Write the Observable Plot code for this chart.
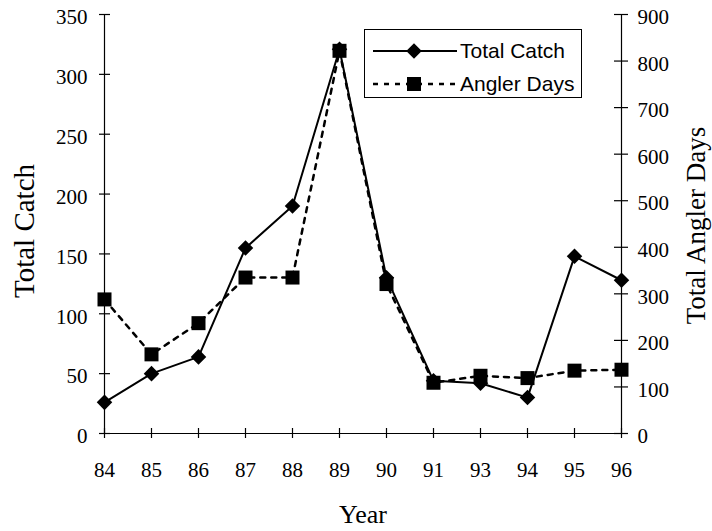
<!DOCTYPE html>
<html>
<head>
<meta charset="utf-8">
<script src="https://cdn.jsdelivr.net/npm/d3@7"></script>
<script src="https://cdn.jsdelivr.net/npm/@observablehq/plot@0.6"></script>
<style>
  html, body { margin: 0; padding: 0; background: #fff; }
  #wrap { position: relative; width: 712px; height: 531px; }
  .legend { position: absolute; left: 364px; top: 29px; width: 216px; height: 67px;
    border: 1px solid #000; background: #fff; font-family: "Liberation Sans", Arial, sans-serif; font-size: 21px; }
  .legend .row { position: absolute; left: 0; height: 30px; width: 216px; }
  .legend svg { position: absolute; left: 6px; top: 0; }
  .legend span { position: absolute; left: 95px; top: 2px; line-height: 26px; white-space: nowrap; }
</style>
</head>
<body>
<div id="wrap"></div>
<script>
// ---- data ----
const years = ["84", "85", "86", "87", "88", "89", "90", "91", "93", "94", "95", "96"];
const totalCatch = [26, 50, 64, 155, 190, 321, 130, 44, 42, 30, 148, 128];
const anglerDays = [288, 170, 237, 335, 335, 822, 321, 109, 124, 119, 135, 137];
const leftTicks = [0, 50, 100, 150, 200, 250, 300, 350];
const rightTicks = [0, 100, 200, 300, 400, 500, 600, 700, 800, 900];
const seriesNames = ["Total Catch", "Angler Days"];

// ---- build ----
const K = 350 / 900; // right-axis units onto left scale
const data = years.map((y, i) => ({year: y, catch: totalCatch[i], days: anglerDays[i] * K}));
const serif = "'Liberation Serif', 'Times New Roman', serif";
const first = years[0], last = years[years.length - 1];
const diamondR = 7, squareR = 7.9;

const plot = Plot.plot({
  width: 712, height: 531,
  marginLeft: 102, marginRight: 89, marginTop: 14, marginBottom: 98,
  style: {fontFamily: serif, fontSize: "21px", color: "#000", background: "#fff", overflow: "visible"},
  x: {type: "point", domain: years, padding: 0, axis: null},
  y: {domain: [0, 350], axis: null},
  marks: [
    // axis lines
    Plot.ruleY([0], {y: d => d, stroke: "#000", strokeWidth: 1.2}),
    Plot.ruleX([first, last], {x: d => d, stroke: "#000", strokeWidth: 1.2}),
    // left ticks + labels
    Plot.ruleY(leftTicks, {y: d => d, x1: () => first, x2: () => first, insetLeft: -5, insetRight: -6, stroke: "#000", strokeWidth: 1.2}),
    Plot.text(leftTicks, {y: d => d, text: d => String(d), frameAnchor: "left", textAnchor: "end", dx: -15, dy: 3, fontSize: 21, fill: "#000"}),
    // right ticks + labels
    Plot.ruleY(rightTicks, {y: d => d * K, x1: () => last, x2: () => last, insetLeft: -7, insetRight: -7, stroke: "#000", strokeWidth: 1.2}),
    Plot.text(rightTicks, {y: d => d * K, text: d => String(d), frameAnchor: "right", textAnchor: "start", dx: 14, dy: 3, fontSize: 21, fill: "#000"}),
    // x ticks + labels
    Plot.ruleX(years, {x: d => d, y1: () => 0, y2: () => 0, insetTop: 5, insetBottom: 5, stroke: "#000", strokeWidth: 1.2}),
    Plot.text(years, {x: d => d, text: d => d, frameAnchor: "bottom", lineAnchor: "top", dy: 29, fontSize: 21, fill: "#000"}),
    // series
    Plot.lineY(data, {x: "year", y: "catch", stroke: "#000", strokeWidth: 2}),
    Plot.dot(data, {x: "year", y: "catch", symbol: "diamond2", r: diamondR, fill: "#000", stroke: "none"}),
    Plot.lineY(data, {x: "year", y: "days", stroke: "#000", strokeWidth: 2.5, strokeDasharray: "5,6"}),
    Plot.dot(data, {x: "year", y: "days", symbol: "square", r: squareR, fill: "#000", stroke: "none"}),
    // titles
    Plot.text(["Total Catch"], {text: d => d, frameAnchor: "left", textAnchor: "middle", lineAnchor: "middle", dx: -78, dy: 7, rotate: -90, fontSize: 29, fill: "#000"}),
    Plot.text(["Total Angler Days"], {text: d => d, frameAnchor: "right", textAnchor: "middle", lineAnchor: "middle", dx: 72.5, dy: 1.5, rotate: -90, fontSize: 27, fill: "#000"}),
    Plot.text(["Year"], {text: d => d, frameAnchor: "bottom", textAnchor: "middle", lineAnchor: "middle", dy: 81, fontSize: 26, fill: "#000"})
  ]
});

const wrap = document.getElementById("wrap");
wrap.appendChild(plot);

// ---- legend ----
const legend = document.createElement("div");
legend.className = "legend";
const rowsTop = [6, 39];
seriesNames.forEach((name, i) => {
  const row = document.createElement("div");
  row.className = "row";
  row.style.top = rowsTop[i] + "px";
  const ns = "http://www.w3.org/2000/svg";
  const svg = document.createElementNS(ns, "svg");
  svg.setAttribute("width", 88); svg.setAttribute("height", 30);
  const line = document.createElementNS(ns, "line");
  line.setAttribute("x1", 2); line.setAttribute("x2", 86);
  line.setAttribute("y1", 15); line.setAttribute("y2", 15);
  line.setAttribute("stroke", "#000");
  line.setAttribute("stroke-width", i === 0 ? 2 : 2.5);
  if (i === 1) line.setAttribute("stroke-dasharray", "5,6");
  svg.appendChild(line);
  const sym = document.createElementNS(ns, "path");
  const s = i === 0 ? d3.symbol(d3.symbolDiamond2, Math.PI * diamondR * diamondR) : d3.symbol(d3.symbolSquare, Math.PI * squareR * squareR);
  sym.setAttribute("d", s());
  sym.setAttribute("transform", "translate(43,15)");
  sym.setAttribute("fill", "#000");
  svg.appendChild(sym);
  row.appendChild(svg);
  const span = document.createElement("span");
  span.textContent = name;
  row.appendChild(span);
  legend.appendChild(row);
});
wrap.appendChild(legend);
</script>
</body>
</html>
